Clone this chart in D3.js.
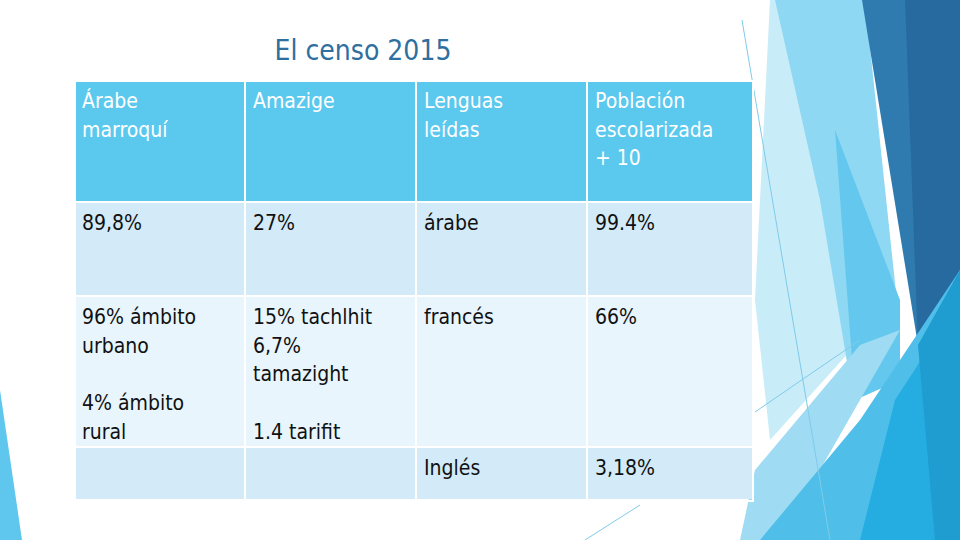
<!DOCTYPE html>
<html><head><meta charset="utf-8">
<script src="https://cdn.jsdelivr.net/npm/d3@7"></script>
<style>body{margin:0;background:#fff}</style>
</head><body>
<div id="slide"></div>
<script>
var svgWidth = 960, svgHeight = 540;

var title = "El censo 2015";
var headers = [["Árabe", "marroquí"], ["Amazige"], ["Lenguas", "leídas"], ["Población", "escolarizada", "+ 10"]];
var rowCells = [
  [[["89,8%"]], [["27%"]], [["árabe"]], [["99.4%"]]],
  [[["96% ámbito", "urbano"], ["4% ámbito", "rural"]],
   [["15% tachlhit", "6,7%", "tamazight"], ["1.4 tarifit"]],
   [["francés"]], [["66%"]]],
  [[[""]], [[""]], [["Inglés"]], [["3,18%"]]]
];
var colEdges = [75, 246, 417, 588, 753];
var rowEdges = [81, 203, 297, 448, 501];
var rowFills = ["#5bc8ee", "#d3ebf8", "#e8f5fc", "#d3ebf8"];

var svg = d3.select("#slide").append("svg")
  .attr("width", svgWidth).attr("height", svgHeight);

// background shapes on the right
var shapes = [
  {fill: "#c9ecf9", pts: [[770, 0], [830, 0], [860, 340], [770, 440], [755, 300]]},
  {fill: "#8fd8f3", pts: [[775, 0], [865, 0], [900, 330], [850, 380], [820, 200]]},
  {fill: "#63c7ee", pts: [[835, 130], [900, 300], [900, 380], [855, 400]]},
  {fill: "#2f7bb0", pts: [[862, 0], [960, 0], [960, 270], [918, 345]]},
  {fill: "#276aa0", pts: [[905, 0], [960, 0], [960, 270], [918, 345]]},
  {fill: "#9fdcf4", pts: [[755, 470], [860, 345], [900, 330], [780, 540], [740, 540]]},
  {fill: "#4fbfea", pts: [[760, 540], [860, 420], [960, 270], [960, 540]]},
  {fill: "#25ade2", pts: [[860, 540], [895, 400], [960, 300], [960, 540]]},
  {fill: "#1f9cd0", pts: [[935, 540], [918, 345], [960, 270], [960, 540]]},
  {fill: "#5fc6ee", pts: [[0, 390], [22, 540], [0, 540]]}
];
svg.selectAll("path.bg").data(shapes).enter().append("path")
  .attr("class", "bg")
  .attr("d", d => "M" + d.pts.join("L") + "Z")
  .attr("fill", d => d.fill);

var lines = [[[742, 20], [830, 540]], [[755, 412], [860, 340]], [[585, 540], [640, 505]]];
svg.selectAll("line.deco").data(lines).enter().append("line")
  .attr("x1", d => d[0][0]).attr("y1", d => d[0][1])
  .attr("x2", d => d[1][0]).attr("y2", d => d[1][1])
  .attr("stroke", "#7fcbe9").attr("stroke-width", 1);

svg.append("text")
  .attr("x", 363).attr("y", 60)
  .attr("text-anchor", "middle")
  .attr("font-family", "DejaVu Sans Condensed, DejaVu Sans")
  .attr("font-size", 28)
  .attr("fill", "#2f6f9f")
  .text(title);

var x = d3.scaleOrdinal().domain(d3.range(4)).range(colEdges.slice(0, 4));
var allRows = [headers.map(h => [h])].concat(rowCells);

var table = svg.append("g");
allRows.forEach((row, r) => {
  row.forEach((cell, c) => {
    var x0 = x(c), y0 = rowEdges[r];
    table.append("rect")
      .attr("x", x0).attr("y", y0)
      .attr("width", colEdges[c + 1] - x0 - (c < 3 ? 2 : 0))
      .attr("height", rowEdges[r + 1] - y0 - 2)
      .attr("fill", rowFills[r]);
    var lineY = y0 + 27;
    cell.forEach((para, p) => {
      if (p > 0) lineY += 57.5;
      para.forEach((t, i) => {
        if (i > 0) lineY += 28.5;
        table.append("text")
          .attr("x", x0 + 7).attr("y", lineY)
          .attr("font-family", "DejaVu Sans Condensed, DejaVu Sans")
          .attr("font-size", 21)
          .attr("fill", r === 0 ? "#ffffff" : "#111111")
          .text(t);
      });
    });
  });
});
// outer white border
table.append("rect").attr("x", 75).attr("y", 81).attr("width", 678).attr("height", 420)
  .attr("fill", "none").attr("stroke", "#ffffff").attr("stroke-width", 2);
</script>
</body></html>
